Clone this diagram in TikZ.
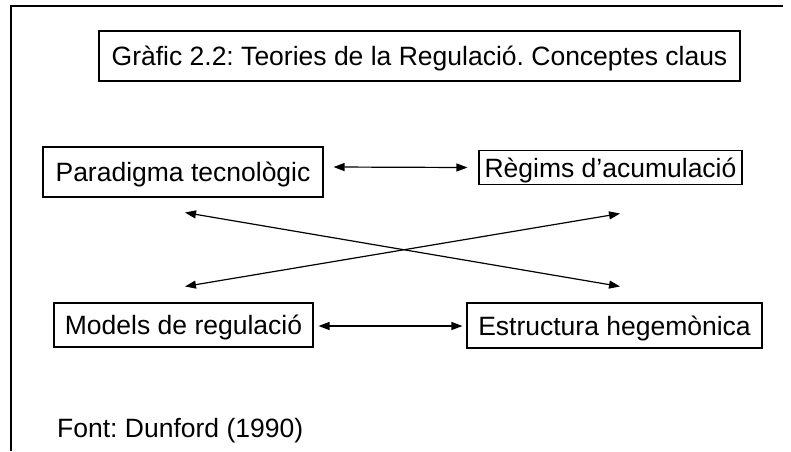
\documentclass[tikz,border=0pt]{standalone}
\usepackage{fontspec}
\setmainfont{Liberation Sans}
\usetikzlibrary{arrows.meta}
\frenchspacing
\begin{document}
\begin{tikzpicture}[x=1pt,y=-1pt,
  box/.style={draw, line width=1.1pt, inner sep=0pt, text height=19pt, text depth=0pt,
    font=\fontsize{26.5}{30}\selectfont},
  arr/.style={line width=1.2pt, {Triangle[length=11pt,width=8pt]}-{Triangle[length=11pt,width=8pt]}},
  lbl/.style={font=\fontsize{26.5}{30}\selectfont, inner sep=0pt, anchor=base west}]
\useasboundingbox (0,0) rectangle (791,451);
\draw[line width=1.1pt] (11,451) -- (11,6) -- (783,6);
\node[box, minimum width=641pt, minimum height=50pt] (title) at (419.5,56) {Gràfic 2.2: Teories de la Regulació. Conceptes claus};
\node[box, minimum width=280pt, minimum height=50pt] (para) at (183,172) {Paradigma tecnològic};
\node[box, minimum width=263pt, minimum height=34pt] (reg) at (610.5,167.5) {Règims d’acumulació};
\node[box, minimum width=259pt, minimum height=44pt] (mod) at (183.5,325) {Models de regulació};
\node[box, minimum width=295pt, minimum height=45pt] (est) at (614.5,325.5) {Estructura hegemònica};
\node[lbl] (font) at (57,437) {Font: Dunford (1990)};
\draw[arr] ([xshift=10pt,yshift=5pt]para.east) -- ([xshift=-11pt]reg.west);
\draw[arr] ([xshift=5pt,yshift=-1pt]mod.east) -- ([xshift=-4pt,yshift=-0.5pt]est.west);
\draw[arr] ([xshift=2pt,yshift=-15pt]para.south) -- ([xshift=5.5pt,yshift=16pt]est.north);
\draw[arr] ([xshift=1.5pt,yshift=16pt]mod.north) -- ([xshift=9.5pt,yshift=-28.5pt]reg.south);
\end{tikzpicture}
\end{document}
